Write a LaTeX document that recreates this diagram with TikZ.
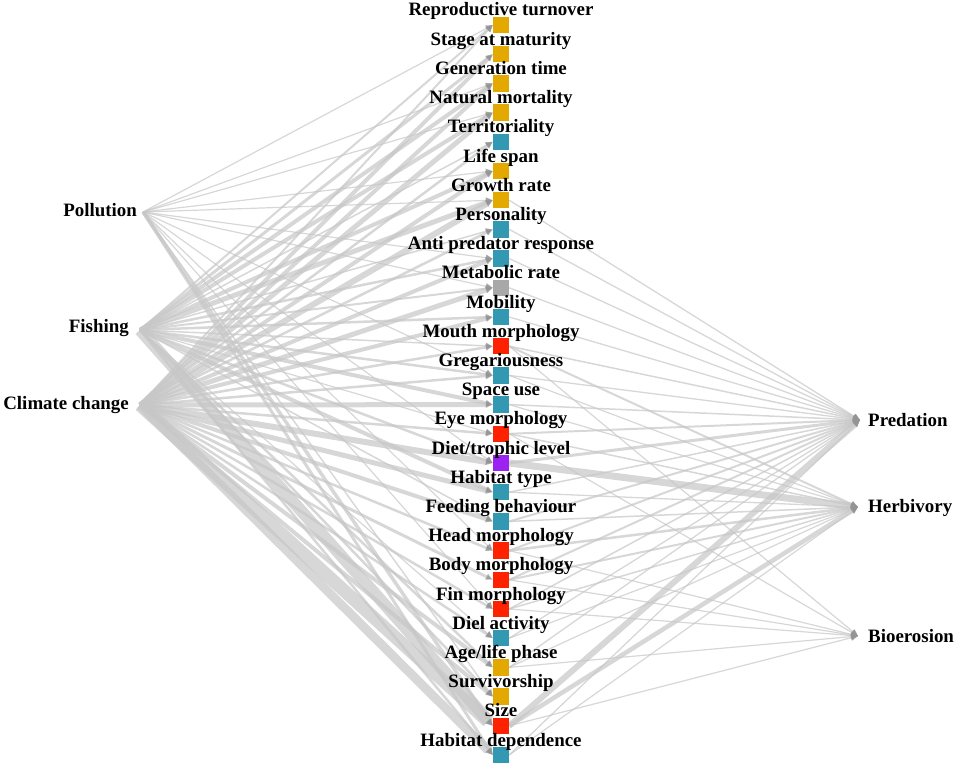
\documentclass[tikz,border=0pt]{standalone}
\usepackage{fontspec}
\setmainfont{Liberation Serif}
\usetikzlibrary{arrows.meta}
\definecolor{cgold}{HTML}{E3A900}
\definecolor{cteal}{HTML}{3399B3}
\definecolor{cred}{HTML}{FF2200}
\definecolor{cpurp}{HTML}{9B22F0}
\definecolor{cgrey}{HTML}{A8A8A8}
\tikzset{
  lnk/.style={draw=black!22, opacity=0.72, -{Triangle[length=7pt,width=6pt,fill=black!42,color=black!42]}},
  sq/.style={rectangle, minimum size=16pt, inner sep=0pt, draw=none},
  lab/.style={font=\fontsize{18.9}{20}\selectfont\bfseries, inner sep=0pt},
}
\begin{document}
\begin{tikzpicture}[x=1pt,y=-1pt]
\useasboundingbox (0,0) rectangle (957,765);
% stressors
\node[lab, anchor=east] (pol) at (137,210) {Pollution};
\node[lab, anchor=east] (fis) at (129,328) {Fishing};
\node[lab, anchor=east] (cli) at (129,405) {Climate change};
\coordinate (pO) at (143,212);
\coordinate (fO) at (140,330);
\coordinate (cO) at (140,405);
% responses
\coordinate (prd) at (860,420);
\coordinate (hrb) at (858,507);
\coordinate (bio) at (858,636);
\node[lab, anchor=west] (prdL) at (868,420) {Predation};
\node[lab, anchor=west] (hrbL) at (868,508) {Herbivory};
\node[lab, anchor=west] (bioL) at (868,636) {Bioerosion};
% trait squares
\foreach \i/\c in {1/cgold,2/cgold,3/cgold,4/cgold,5/cteal,6/cgold,7/cgold,8/cteal,9/cteal,10/cgrey,11/cteal,12/cred,13/cteal,14/cteal,15/cred,16/cpurp,17/cteal,18/cteal,19/cred,20/cred,21/cred,22/cteal,23/cgold,24/cgold,25/cred,26/cteal}
  \node[sq, fill=\c] (t\i) at (501,{25+29.2*(\i-1)}) {};
% edges from stressors
\foreach \t/\w in {1/1.2,3/1.2,4/1.2,6/1.2,7/1.2,9/1.2,10/1.2,13/1.2,16/1.2,19/1.2,21/1.2,24/1.4,25/3.5,26/3}
  \draw[lnk, line width=\w pt] (pO) -- (t\t.west);
\foreach \t/\w in {1/2,2/3,3/4,4/4,5/1.5,6/4,7/5,8/1.5,9/2.5,10/2,11/2.5,12/1.5,13/2.5,14/4,15/1.2,16/2.5,17/4,18/1.5,22/1.2,23/2.5,24/2.5,25/12,26/2.5}
  \draw[lnk, line width=\w pt] (fO) -- (t\t.west);
\foreach \t/\w in {1/2,2/4,3/4,4/5,5/2.5,6/4,7/6,8/2.5,9/4,10/5,11/4,12/2.5,13/2.5,14/5,15/2.5,16/6,17/5,18/4,19/2.5,20/3,21/2.5,22/2.5,23/4,24/4,25/13,26/9}
  \draw[lnk, line width=\w pt] (cO) -- (t\t.west);
% edges to responses
\foreach \t/\w in {7/1.3,8/1.3,9/1.3,10/1.3,11/1.3,12/1.5,13/1.3,14/1.5,15/2,16/3,17/1.5,18/2,19/2,20/2,21/1.5,22/1.3,23/1.3,25/6,26/1.3}
  \draw[lnk, line width=\w pt] (t\t.east) -- (prd);
\foreach \t/\w in {12/2,13/1.2,14/1.2,15/1.5,16/7,17/1.3,18/1.5,19/2.5,20/2,21/1.5,22/1.2,23/1.2,25/4.5,26/1.2}
  \draw[lnk, line width=\w pt] (t\t.east) -- (hrb);
\foreach \t/\w in {12/1.2,15/1.2,19/1.2,20/1.2,21/1.2,23/1.2,25/1.2}
  \draw[lnk, line width=\w pt] (t\t.east) -- (bio);
% redraw squares on top
\foreach \i/\c in {1/cgold,2/cgold,3/cgold,4/cgold,5/cteal,6/cgold,7/cgold,8/cteal,9/cteal,10/cgrey,11/cteal,12/cred,13/cteal,14/cteal,15/cred,16/cpurp,17/cteal,18/cteal,19/cred,20/cred,21/cred,22/cteal,23/cgold,24/cgold,25/cred,26/cteal}
  \fill[\c] (t\i.south west) rectangle (t\i.north east);
% trait labels
\foreach \i/\s in {1/Reproductive turnover,2/Stage at maturity,3/Generation time,4/Natural mortality,5/Territoriality,6/Life span,7/Growth rate,8/Personality,9/Anti predator response,10/Metabolic rate,11/Mobility,12/Mouth morphology,13/Gregariousness,14/Space use,15/Eye morphology,16/Diet{/}trophic level,17/Habitat type,18/Feeding behaviour,19/Head morphology,20/Body morphology,21/Fin morphology,22/Diel activity,23/Age{/}life phase,24/Survivorship,25/Size,26/Habitat dependence}
  \node[lab, anchor=base] (l\i) at (501,{25+29.2*(\i-1)-9}) {\s};
\end{tikzpicture}
\end{document}
